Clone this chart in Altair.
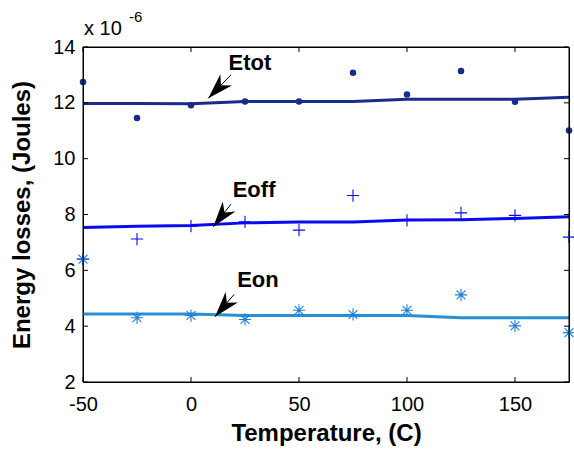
import math
import altair as alt
import pandas as pd

# ---------------- data ----------------
temps = [-50, -25, 0, 25, 50, 75, 100, 125, 150, 175]
etot_meas = [12.75, 11.46, 11.91, 12.05, 12.05, 13.08, 12.30, 13.14, 12.04, 11.01]
eoff_meas = [6.40, 7.12, 7.58, 7.74, 7.44, 8.68, 7.79, 8.06, 7.97, 7.19]
eon_meas = [6.40, 4.30, 4.38, 4.24, 4.57, 4.42, 4.57, 5.12, 4.01, 3.77]
etot_fit = [11.98, 11.98, 11.97, 12.05, 12.05, 12.05, 12.13, 12.13, 12.13, 12.20]
eoff_fit = [7.53, 7.58, 7.61, 7.70, 7.73, 7.73, 7.80, 7.81, 7.86, 7.92]
eon_fit = [4.44, 4.44, 4.44, 4.38, 4.38, 4.38, 4.38, 4.30, 4.30, 4.30]

x_ticks = [-50, 0, 50, 100, 150]
y_ticks = [2, 4, 6, 8, 10, 12, 14]
x_domain = [-50, 175]
y_domain = [2, 14]

ann_labels = ["Etot", "Eoff", "Eon"]
ann_text_x = [27.3, 29.2, 31.0]
ann_text_y = [13.41, 8.88, 5.65]
ann_tip_x = [8.0, 10.3, 11.1]
ann_tip_y = [12.16, 7.56, 4.34]
ann_tail_x = [18.5, 18.5, 20.0]
ann_tail_y = [13.0, 8.37, 5.14]

exp_base = ["x 10"]
exp_power = ["-6"]

x_title = "Temperature, (C)"
y_title = "Energy losses, (Joules)"

# ---------------- layout / style ----------------
W, H = 486, 335
FONT = "Liberation Sans"
C_TOT = "#1b2b8c"
C_OFF = "#0a0af0"
C_ON = "#1f7fdc"
C_ON_LINE = "#2a8ed4"

PLUS = "M-1,0L1,0M0,-1L0,1"
STAR = "M-1,0L1,0M0,-1L0,1M-0.72,-0.72L0.72,0.72M-0.72,0.72L0.72,-0.72"
HEAD = "M0,0L0.68,2.17L0,1.54L-0.68,2.17Z"

xs = alt.Scale(domain=x_domain, nice=False, zero=False)
ys = alt.Scale(domain=y_domain, nice=False, zero=False)

df = pd.DataFrame({
    "temp": temps,
    "etot": etot_meas, "eoff": eoff_meas, "eon": eon_meas,
    "etot_fit": etot_fit, "eoff_fit": eoff_fit, "eon_fit": eon_fit,
})

px_x = W / (x_domain[1] - x_domain[0])
px_y = H / (y_domain[1] - y_domain[0])
angles = []
for tx, ty, sx, sy in zip(ann_tip_x, ann_tip_y, ann_tail_x, ann_tail_y):
    dx = (tx - sx) * px_x
    dy = -(ty - sy) * px_y
    angles.append(math.degrees(math.atan2(dx, -dy)) % 360)

ann = pd.DataFrame({
    "label": ann_labels, "tx": ann_text_x, "ty": ann_text_y,
    "hx": ann_tip_x, "hy": ann_tip_y, "sx": ann_tail_x, "sy": ann_tail_y,
    "angle": angles,
})

base = alt.Chart(df)

x_axis = alt.Axis(values=x_ticks, tickSize=0, domain=False, grid=False,
                  labelPadding=12, labelFlush=False, labelExpr="datum.value",
                  title=x_title, titleX=W / 2, titleY=58,
                  titleBaseline="alphabetic", titleAlign="center")
y_axis = alt.Axis(values=y_ticks, tickSize=0, domain=False, grid=False,
                  labelPadding=8, labelFlush=False, labelExpr="datum.value",
                  title=y_title, titleX=-61, titleY=H / 2, titleAngle=270,
                  titleAlign="center", titleBaseline="middle")


def X(field):
    return alt.X(f"{field}:Q", scale=xs, axis=x_axis)


def Y(field):
    return alt.Y(f"{field}:Q", scale=ys, axis=y_axis)


box = alt.Chart(pd.DataFrame({"k": [0]})).mark_rect(
    fill=None, stroke="black", strokeWidth=1
).encode(x=alt.value(0), x2=alt.value(W), y=alt.value(0), y2=alt.value(H))

line_tot = base.mark_line(color=C_TOT, strokeWidth=3).encode(
    x=X("temp"), y=Y("etot_fit"))
line_off = base.mark_line(color=C_OFF, strokeWidth=3).encode(
    x=X("temp"), y=Y("eoff_fit"))
line_on = base.mark_line(color=C_ON_LINE, strokeWidth=3).encode(
    x=X("temp"), y=Y("eon_fit"))

pts_tot = base.mark_point(shape="circle", filled=True, color=C_TOT, size=42,
                          opacity=1).encode(x=X("temp"), y=Y("etot"))
pts_off = base.mark_point(shape=PLUS, filled=False, color=C_OFF, size=150,
                          strokeWidth=1.1, opacity=1).encode(x=X("temp"), y=Y("eoff"))
pts_on = base.mark_point(shape=STAR, filled=False, color=C_ON, size=150,
                         strokeWidth=1.1, opacity=1).encode(x=X("temp"), y=Y("eon"))

abase = alt.Chart(ann)
shafts = abase.mark_rule(color="black", strokeWidth=1).encode(
    x=X("sx"), y=Y("sy"), x2="hx:Q", y2="hy:Q")
heads = abase.mark_point(shape=HEAD, filled=True, color="black", size=560,
                         opacity=1, strokeWidth=0).encode(
    x=X("hx"), y=Y("hy"), angle=alt.Angle("angle:Q", scale=None))
labels = abase.mark_text(font=FONT, fontSize=22, fontWeight="bold",
                         color="black", align="center", baseline="middle").encode(
    x=X("tx"), y=Y("ty"), text="label:N")

xt = alt.Chart(pd.DataFrame({"v": x_ticks}))
yt = alt.Chart(pd.DataFrame({"v": y_ticks}))
tick_b = xt.mark_rule(color="black", strokeWidth=1).encode(
    x=X("v"), y=alt.value(H), y2=alt.value(H - 5))
tick_t = xt.mark_rule(color="black", strokeWidth=1).encode(
    x=X("v"), y=alt.value(0), y2=alt.value(5))
tick_l = yt.mark_rule(color="black", strokeWidth=1).encode(
    y=Y("v"), x=alt.value(0), x2=alt.value(5))
tick_r = yt.mark_rule(color="black", strokeWidth=1).encode(
    y=Y("v"), x=alt.value(W), x2=alt.value(W - 5))

exp1 = alt.Chart(pd.DataFrame({"t": exp_base})).mark_text(
    font=FONT, fontSize=20, color="black", align="left", baseline="alphabetic"
).encode(x=alt.value(1), y=alt.value(-12), text="t:N")
exp2 = alt.Chart(pd.DataFrame({"t": exp_power})).mark_text(
    font=FONT, fontSize=15, color="black", align="left", baseline="alphabetic"
).encode(x=alt.value(46), y=alt.value(-25), text="t:N")

chart = alt.layer(
    line_tot, line_off, line_on, pts_tot, pts_off, pts_on,
    box, tick_b, tick_t, tick_l, tick_r,
    shafts, heads, labels, exp1, exp2,
).properties(
    width=W, height=H,
    padding={"left": 83, "top": 47, "right": 5, "bottom": 69},
    autosize=alt.AutoSizeParams(type="none"),
    background="white",
).configure_view(
    stroke="black", strokeWidth=1
).configure_axis(
    labelFont=FONT, titleFont=FONT, labelFontSize=20, titleFontSize=24,
    titleFontWeight="bold", labelColor="black", titleColor="black",
)

chart.save("out.html", embed_options={"renderer": "svg", "actions": False})
